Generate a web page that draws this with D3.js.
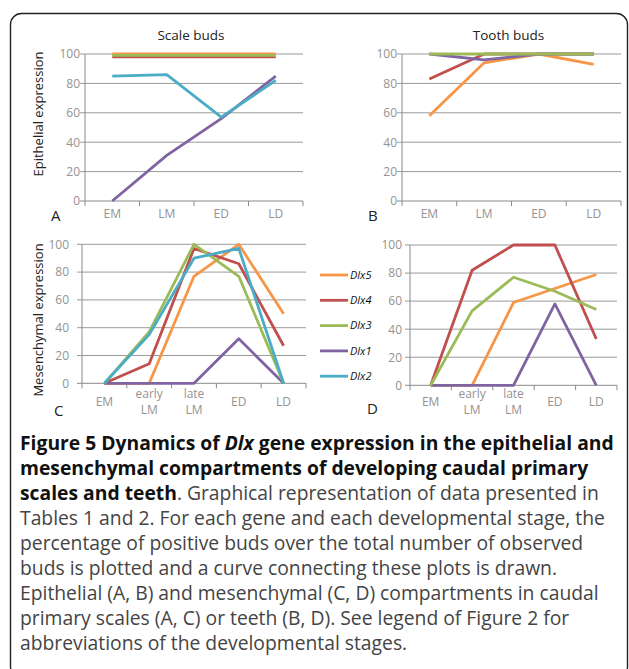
<!DOCTYPE html>
<html>
<head>
<meta charset="utf-8">
<script src="https://cdn.jsdelivr.net/npm/d3@7"></script>
<style>
  body { margin: 0; background: #fff; }
  svg { display: block; }
</style>
</head>
<body>
<div id="fig"></div>
<script>
// categories
var stages4 = ["EM", "LM", "ED", "LD"];
var stages5 = ["EM", "early LM", "late LM", "ED", "LD"];
var genes = ["Dlx5", "Dlx4", "Dlx3", "Dlx1", "Dlx2"];
var geneColors = ["#f79646", "#c0504d", "#9bbb59", "#8064a2", "#4bacc6"];
var yTicks = [0, 20, 40, 60, 80, 100];

// A: epithelial, scale buds
var scaleEpiDlx5 = [100, 100, 100, 100];
var scaleEpiDlx4 = [98, 98, 98, 98];
var scaleEpiDlx3 = [99, 99, 99, 99];
var scaleEpiDlx1 = [0, 31, 56, 85];
var scaleEpiDlx2 = [85, 86, 57, 82];

// B: epithelial, tooth buds (no Dlx2)
var toothEpiDlx5 = [58, 94, 100, 93];
var toothEpiDlx4 = [83, 100, 100, 100];
var toothEpiDlx3 = [100, 100, 100, 100];
var toothEpiDlx1 = [100, 96, 100, 100];

// C: mesenchymal, scale buds
var scaleMesDlx5 = [0, 0, 77, 100, 50];
var scaleMesDlx4 = [0, 14, 97, 86, 27];
var scaleMesDlx3 = [0, 37, 100, 77, 0];
var scaleMesDlx1 = [0, 0, 0, 32, 0];
var scaleMesDlx2 = [0, 35, 90, 97, 0];

// D: mesenchymal, tooth buds (no Dlx2)
var toothMesDlx5 = [0, 0, 59, 69, 79];
var toothMesDlx4 = [0, 82, 100, 100, 33];
var toothMesDlx3 = [0, 53, 77, 67, 54];
var toothMesDlx1 = [0, 0, 0, 58, 0];

var width = 629, height = 669;
var font = "'Open Sans', sans-serif";

var svg = d3.select("#fig").append("svg")
    .attr("width", width)
    .attr("height", height);

// figure frame
svg.append("rect")
    .attr("x", 10.5).attr("y", 13.5)
    .attr("width", 617).attr("height", 664)
    .attr("rx", 11).attr("ry", 11)
    .attr("fill", "none")
    .attr("stroke", "#222")
    .attr("stroke-width", 1.4);

// drawing order: Dlx5, Dlx4, Dlx1, Dlx3, Dlx2 (green above purple in B)
var order = [0, 1, 3, 2, 4];

drawPanel({
  cats: stages4, letter: "A", title: "Scale buds", ylabel: "Epithelial expression", ylabelY: 114,
  x0: 85, x1: 303, yTop: 54, yBot: 201, tickLabelX: 80, labelY: 218, letterX: 51, letterY: 221,
  series: [scaleEpiDlx5, scaleEpiDlx4, scaleEpiDlx3, scaleEpiDlx1, scaleEpiDlx2]
});
drawPanel({
  cats: stages4, letter: "B", title: "Tooth buds",
  x0: 402, x1: 621, yTop: 54, yBot: 201, tickLabelX: 397, labelY: 218, letterX: 368, letterY: 221,
  series: [toothEpiDlx5, toothEpiDlx4, toothEpiDlx3, toothEpiDlx1, null]
});
drawPanel({
  cats: stages5, letter: "C", ylabel: "Mesenchymal expression", ylabelY: 320,
  x0: 82, x1: 306, yTop: 244.3, yBot: 383.3, tickLabelX: 69, labelY: 406, letterX: 54, letterY: 416,
  series: [scaleMesDlx5, scaleMesDlx4, scaleMesDlx3, scaleMesDlx1, scaleMesDlx2]
});
drawPanel({
  cats: stages5, letter: "D",
  x0: 410, x1: 617, yTop: 245, yBot: 385.3, tickLabelX: 402, labelY: 406, letterX: 367, letterY: 414,
  series: [toothMesDlx5, toothMesDlx4, toothMesDlx3, toothMesDlx1, null]
});

// legend between C and D
var legend = svg.append("g").attr("transform", "translate(320,275)");
var li = legend.selectAll("g").data(genes).enter().append("g")
    .attr("transform", function(d, i) { return "translate(0," + (i * 25.3) + ")"; });
li.append("line")
    .attr("x1", 0).attr("x2", 28)
    .attr("stroke", function(d, i) { return geneColors[i]; })
    .attr("stroke-width", 2.8);
li.append("text")
    .attr("x", 30).attr("dy", "0.35em")
    .style("font-family", font)
    .style("font-size", "11px")
    .style("font-style", "italic")
    .attr("fill", "#111")
    .text(function(d) { return d; });

// caption
var caption = [
  [["b", "Figure 5 Dynamics of "], ["bi", "Dlx"], ["b", " gene expression in the epithelial and"]],
  [["b", "mesenchymal compartments of developing caudal primary"]],
  [["b", "scales and teeth"], ["r", ". Graphical representation of data presented in"]],
  [["r", "Tables 1 and 2. For each gene and each developmental stage, the"]],
  [["r", "percentage of positive buds over the total number of observed"]],
  [["r", "buds is plotted and a curve connecting these plots is drawn."]],
  [["r", "Epithelial (A, B) and mesenchymal (C, D) compartments in caudal"]],
  [["r", "primary scales (A, C) or teeth (B, D). See legend of Figure 2 for"]],
  [["r", "abbreviations of the developmental stages."]]
];

var cap = svg.append("g")
    .style("font-family", font)
    .style("font-size", "16px");
var capLines = [];
caption.forEach(function(line, i) {
  var t = cap.append("text").attr("x", 20).attr("y", 450 + i * 25);
  line.forEach(function(part) {
    t.append("tspan")
      .attr("font-weight", part[0] === "r" ? 400 : 700)
      .attr("font-style", part[0] === "bi" ? "italic" : "normal")
      .attr("fill", part[0] === "r" ? "#444" : "#111")
      .text(part[1]);
  });
  capLines.push(t);
});
// size the caption so the first line spans the frame as in the figure
var w0 = capLines[0].node().getComputedTextLength();
cap.style("font-size", (16 * 594 / w0) + "px");

function drawPanel(p) {
  var g = svg.append("g");
  var x = d3.scaleBand().domain(p.cats).range([p.x0, p.x1]);
  var y = d3.scaleLinear().domain([0, 100]).range([p.yBot, p.yTop]);
  var cx = function(c) { return x(c) + x.bandwidth() / 2; };

  // horizontal grid + y ticks
  g.selectAll(".grid").data(yTicks).enter().append("line")
      .attr("x1", p.x0 - 5).attr("x2", p.x1)
      .attr("y1", function(d) { return y(d); })
      .attr("y2", function(d) { return y(d); })
      .attr("stroke", function(d) { return d === 0 ? "#8a8a8a" : "#9a9a9a"; })
      .attr("stroke-width", 1);
  g.append("line")
      .attr("x1", p.x0).attr("x2", p.x0)
      .attr("y1", p.yTop).attr("y2", p.yBot)
      .attr("stroke", "#8a8a8a");
  g.selectAll(".ytl").data(yTicks).enter().append("text")
      .attr("x", p.tickLabelX)
      .attr("y", function(d) { return y(d); })
      .attr("dy", "0.36em")
      .attr("text-anchor", "end")
      .style("font-family", font)
      .style("font-size", "12px")
      .attr("fill", "#939393")
      .text(function(d) { return d; });

  // x tick marks at category boundaries
  var bounds = p.cats.map(function(c) { return x(c); }).concat([p.x1]);
  g.selectAll(".xt").data(bounds).enter().append("line")
      .attr("x1", function(d) { return d; }).attr("x2", function(d) { return d; })
      .attr("y1", p.yBot).attr("y2", p.yBot + 5)
      .attr("stroke", "#8a8a8a");

  // category labels (two lines where needed)
  var xl = g.selectAll(".xl").data(p.cats).enter().append("text")
      .attr("text-anchor", "middle")
      .style("font-family", font)
      .style("font-size", "12px")
      .attr("fill", "#939393");
  xl.each(function(c) {
    var parts = c.split(" ");
    var t = d3.select(this);
    if (parts.length === 1) {
      t.append("tspan").attr("x", cx(c)).attr("y", p.labelY).text(c);
    } else {
      t.append("tspan").attr("x", cx(c)).attr("y", p.labelY - 8).text(parts[0]);
      t.append("tspan").attr("x", cx(c)).attr("y", p.labelY + 8).text(parts[1]);
    }
  });

  // series lines
  var line = d3.line()
      .x(function(d, i) { return cx(p.cats[i]); })
      .y(function(d) { return y(d); });
  order.forEach(function(k) {
    if (!p.series[k]) return;
    g.append("path")
        .datum(p.series[k])
        .attr("d", line)
        .attr("fill", "none")
        .attr("stroke", geneColors[k])
        .attr("stroke-width", 2.8)
        .attr("stroke-linejoin", "round");
  });

  if (p.title) {
    g.append("text")
        .attr("x", (p.x0 + p.x1) / 2 - 3).attr("y", 40)
        .attr("text-anchor", "middle")
        .style("font-family", font)
        .style("font-size", "13.5px")
        .attr("fill", "#222")
        .text(p.title);
  }
  if (p.ylabel) {
    g.append("text")
        .attr("transform", "translate(43," + p.ylabelY + ") rotate(-90)")
        .attr("text-anchor", "middle")
        .style("font-family", font)
        .style("font-size", "13px")
        .attr("fill", "#222")
        .text(p.ylabel);
  }
  g.append("text")
      .attr("x", p.letterX).attr("y", p.letterY)
      .style("font-family", font)
      .style("font-size", "15px")
      .attr("fill", "#222")
      .text(p.letter);
}
</script>
</body>
</html>
